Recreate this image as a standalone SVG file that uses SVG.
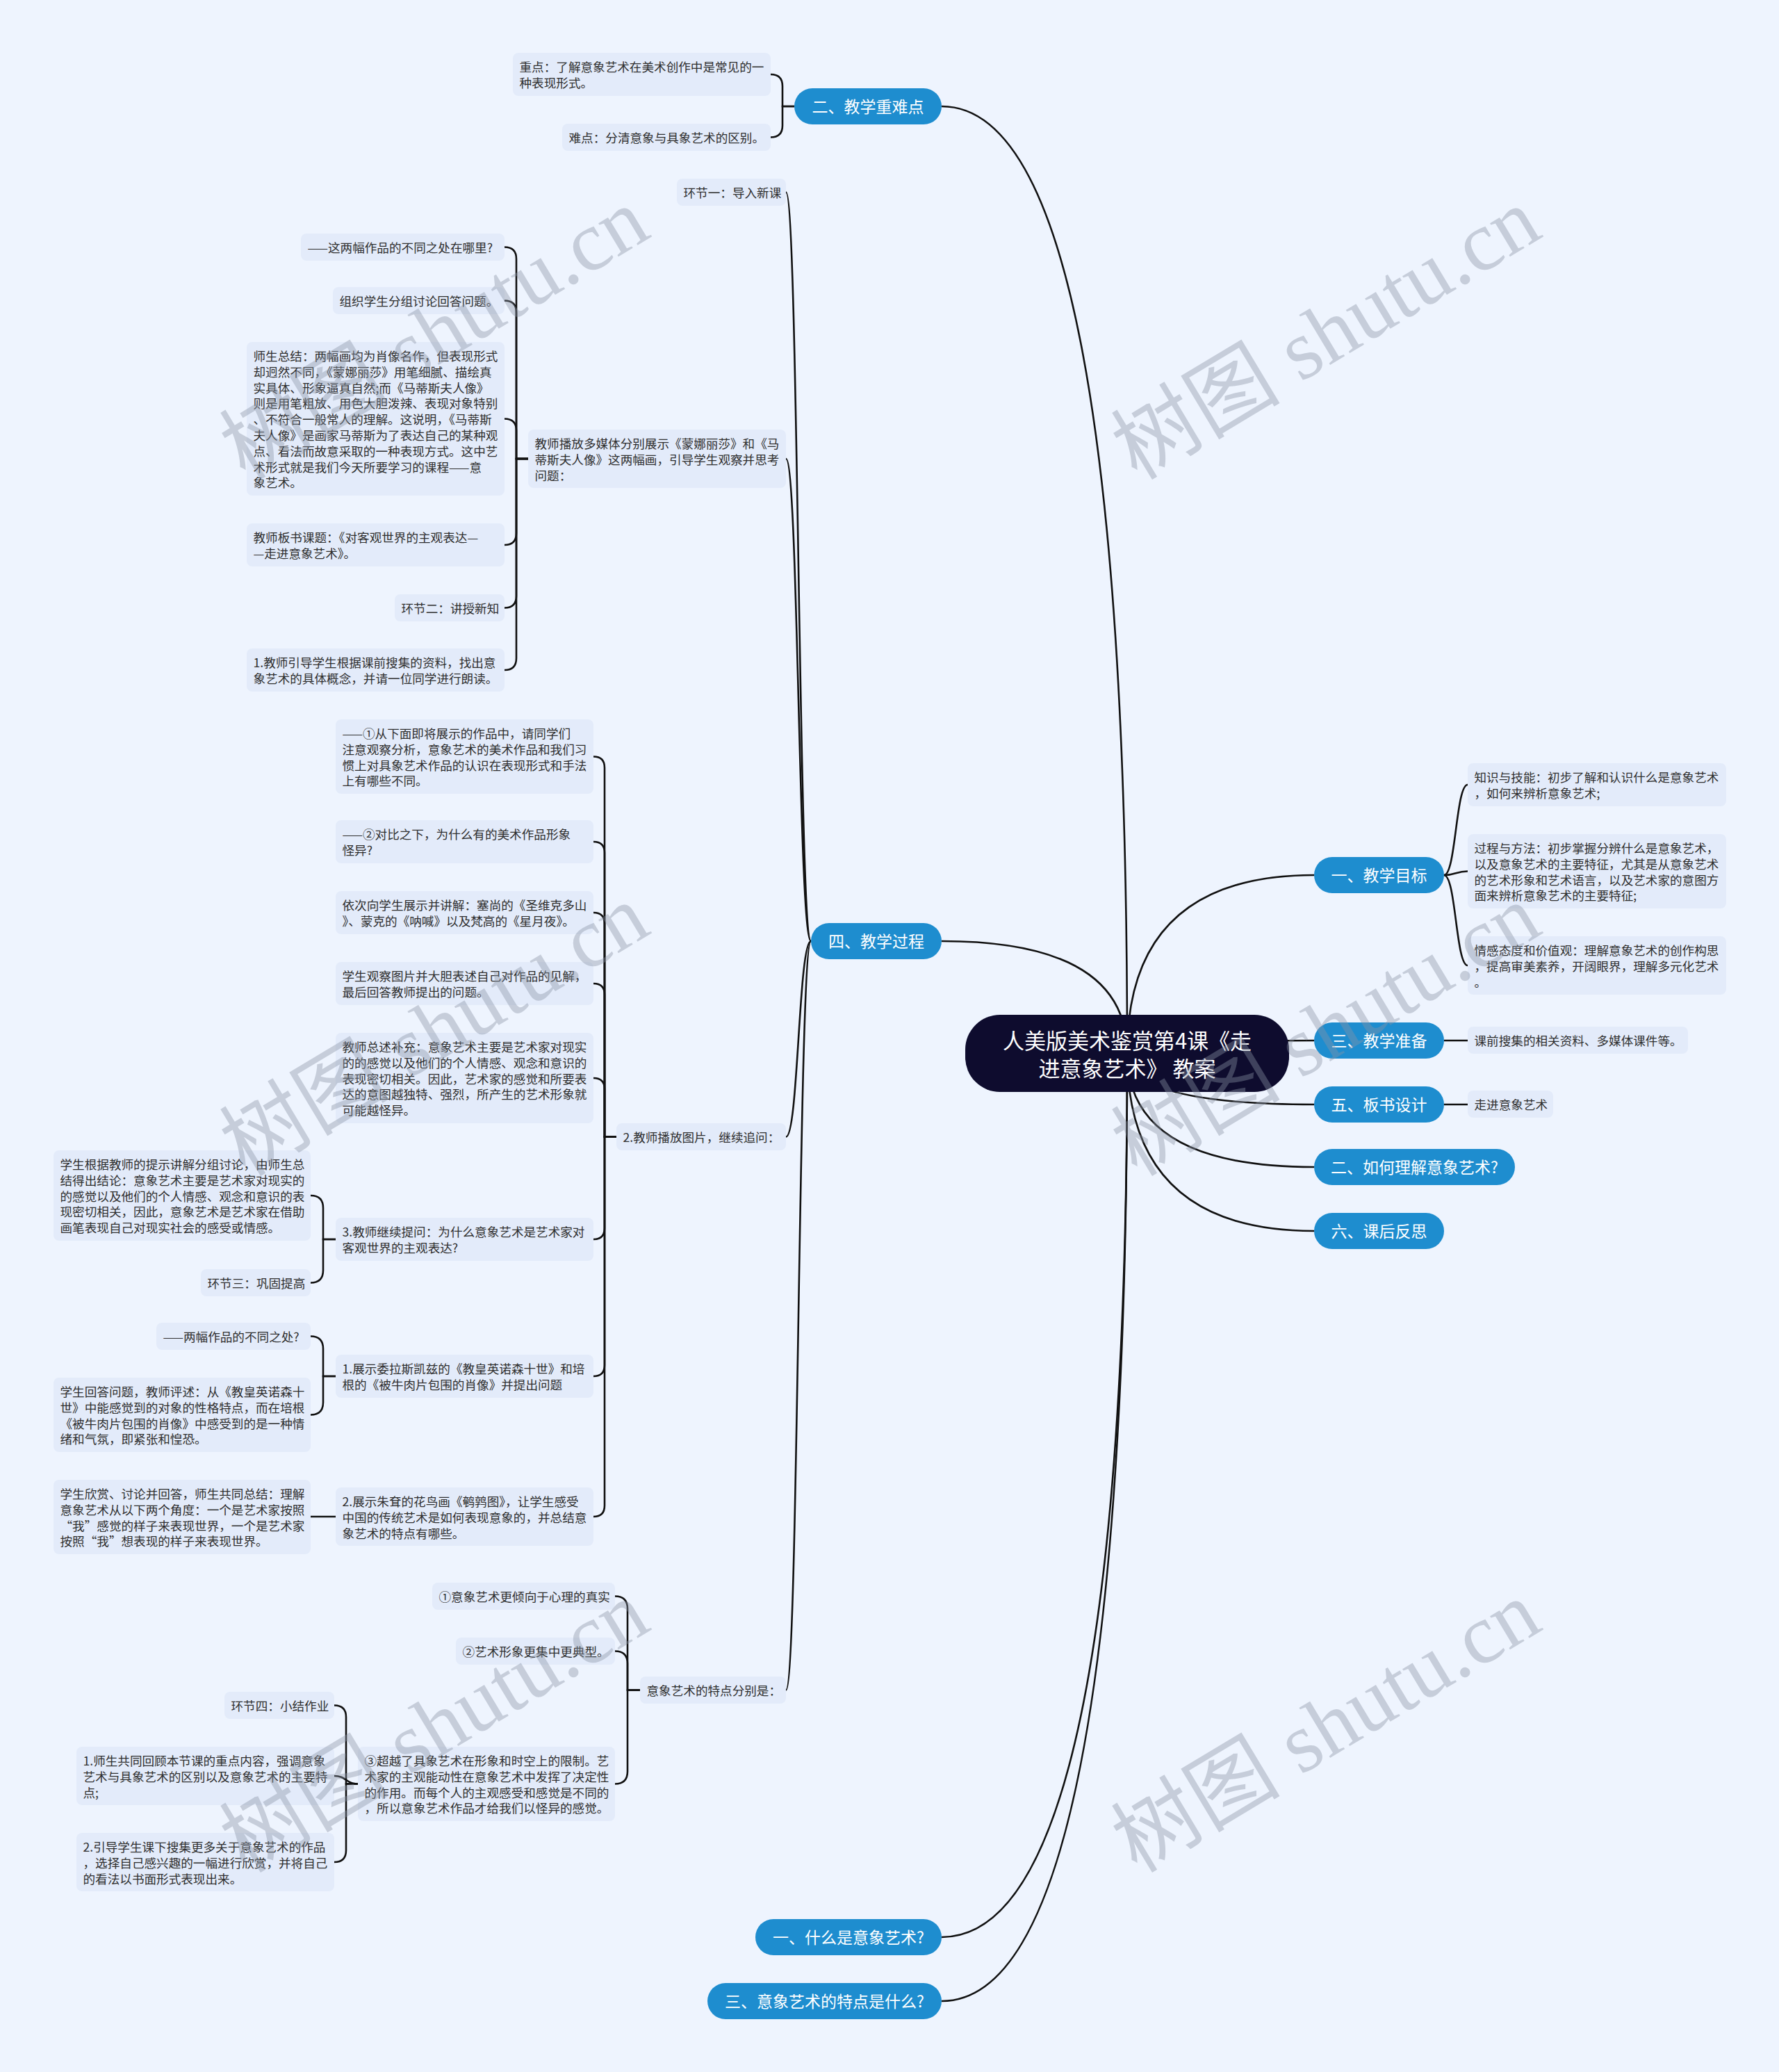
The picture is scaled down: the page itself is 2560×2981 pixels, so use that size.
<svg xmlns="http://www.w3.org/2000/svg" width="2560" height="2981" viewBox="0 0 2560 2981">
<style>
.box{fill:#E3EBFA}
.t{font-family:"Noto Sans CJK SC","Liberation Sans",sans-serif;font-size:17.6px;fill:#2f2f2f}
.pill{fill:#1E8DCF}
.pt{font-family:"Noto Sans CJK SC","Liberation Sans",sans-serif;font-size:23px;fill:#ffffff;text-anchor:middle}
.root{fill:#0E0C2E}
.rt{font-family:"Noto Sans CJK SC","Liberation Sans",sans-serif;font-size:31px;fill:#ffffff;text-anchor:middle}
.ln{fill:none;stroke:#111111;stroke-width:2.6}
.wm{font-family:"Liberation Serif","Noto Sans CJK SC",serif;font-size:122px;fill:#8A94A6;fill-opacity:0.4}
</style>
<rect x="0" y="0" width="2560" height="2981" fill="#EEF4FE"/>
<g id="connectors">
<path class="ln" d="M1622,1515 Q1622,153 1355,153"/>
<path class="ln" d="M1622,1515 Q1622,1354 1355,1354"/>
<path class="ln" d="M1622,1515 Q1622,2787 1355,2787"/>
<path class="ln" d="M1622,1515 Q1622,2879 1355,2879"/>
<path class="ln" d="M1622,1515 Q1622,1259 1891,1259"/>
<path class="ln" d="M1622,1515 Q1622,1497 1891,1497"/>
<path class="ln" d="M1622,1515 Q1622,1589 1891,1589"/>
<path class="ln" d="M1622,1515 Q1622,1679 1891,1679"/>
<path class="ln" d="M1622,1515 Q1622,1771 1891,1771"/>
<path class="ln" d="M1143,153 H1126 V124 Q1126,107 1109,107"/>
<path class="ln" d="M1143,153 H1126 V180.5 Q1126,197.5 1109,197.5"/>
<path class="ln" d="M1167,1354 C1149,1354 1149,276.5 1131,276.5"/>
<path class="ln" d="M1167,1354 C1149,1354 1149,660 1131,660"/>
<path class="ln" d="M1167,1354 C1149,1354 1149,1635.5 1131,1635.5"/>
<path class="ln" d="M1167,1354 C1149,1354 1149,2431.5 1131,2431.5"/>
<path class="ln" d="M760,660 H743 V372.5 Q743,355.5 726,355.5"/>
<path class="ln" d="M760,660 H743 V449.5 Q743,432.5 726,432.5"/>
<path class="ln" d="M760,660 H743 V619.5 Q743,602.5 726,602.5"/>
<path class="ln" d="M760,660 H743 V767 Q743,784 726,784"/>
<path class="ln" d="M760,660 H743 V857.5 Q743,874.5 726,874.5"/>
<path class="ln" d="M760,660 H743 V947 Q743,964 726,964"/>
<path class="ln" d="M887,1635.5 H870 V1104.5 Q870,1088.5 854,1088.5"/>
<path class="ln" d="M887,1635.5 H870 V1227 Q870,1211 854,1211"/>
<path class="ln" d="M887,1635.5 H870 V1329 Q870,1313 854,1313"/>
<path class="ln" d="M887,1635.5 H870 V1431 Q870,1415 854,1415"/>
<path class="ln" d="M887,1635.5 H870 V1567 Q870,1551 854,1551"/>
<path class="ln" d="M887,1635.5 H870 V1767 Q870,1783 854,1783"/>
<path class="ln" d="M887,1635.5 H870 V1964 Q870,1980 854,1980"/>
<path class="ln" d="M887,1635.5 H870 V2166 Q870,2182 854,2182"/>
<path class="ln" d="M483,1783 H465 V1738 Q465,1720 447,1720"/>
<path class="ln" d="M483,1783 H465 V1827.5 Q465,1845.5 447,1845.5"/>
<path class="ln" d="M483,1980 H465 V1940.5 Q465,1922.5 447,1922.5"/>
<path class="ln" d="M483,1980 H465 V2017.5 Q465,2035.5 447,2035.5"/>
<path class="ln" d="M483,2182 H447"/>
<path class="ln" d="M921,2431.5 H903 V2314.5 Q903,2296.5 885,2296.5"/>
<path class="ln" d="M921,2431.5 H903 V2393.5 Q903,2375.5 885,2375.5"/>
<path class="ln" d="M921,2431.5 H903 V2548.5 Q903,2566.5 885,2566.5"/>
<path class="ln" d="M515,2566.5 H498 V2470.5 Q498,2453.5 481,2453.5"/>
<path class="ln" d="M515,2566.5 C498,2566.5 498,2555 481,2555"/>
<path class="ln" d="M515,2566.5 H498 V2662 Q498,2679 481,2679"/>
<path class="ln" d="M2078,1259 C2095,1259 2095,1129 2112,1129"/>
<path class="ln" d="M2078,1259 C2095,1259 2095,1253.5 2112,1253.5"/>
<path class="ln" d="M2078,1259 C2095,1259 2095,1389 2112,1389"/>
<path class="ln" d="M2078,1497 H2112"/>
<path class="ln" d="M2078,1589 H2112"/>
</g>
<g id="root"><rect class="root" x="1389" y="1460" width="466" height="111" rx="50"/><text class="rt"><tspan x="1622" y="1508.5">人美版美术鉴赏第4课《走</tspan><tspan x="1622" y="1548.5">进意象艺术》 教案</tspan></text></g>
<g id="n-zhongnan"><rect class="pill" x="1143" y="127" width="212" height="52" rx="26"/><text class="pt" x="1249" y="161.5">二、教学重难点</text></g>
<g id="n-guocheng"><rect class="pill" x="1167" y="1328" width="188" height="52" rx="26"/><text class="pt" x="1261" y="1362.5">四、教学过程</text></g>
<g id="n-shenme"><rect class="pill" x="1087" y="2761" width="268" height="52" rx="26"/><text class="pt" x="1221" y="2795.5">一、什么是意象艺术?</text></g>
<g id="n-tedian"><rect class="pill" x="1018" y="2853" width="337" height="52" rx="26"/><text class="pt" x="1186.5" y="2887.5">三、意象艺术的特点是什么?</text></g>
<g id="n-mubiao"><rect class="pill" x="1891" y="1233" width="187" height="52" rx="26"/><text class="pt" x="1984.5" y="1267.5">一、教学目标</text></g>
<g id="n-zhunbei"><rect class="pill" x="1891" y="1471" width="187" height="52" rx="26"/><text class="pt" x="1984.5" y="1505.5">三、教学准备</text></g>
<g id="n-banshu"><rect class="pill" x="1891" y="1563" width="187" height="52" rx="26"/><text class="pt" x="1984.5" y="1597.5">五、板书设计</text></g>
<g id="n-lijie"><rect class="pill" x="1891" y="1653" width="289" height="52" rx="26"/><text class="pt" x="2035.5" y="1687.5">二、如何理解意象艺术?</text></g>
<g id="n-fansi"><rect class="pill" x="1891" y="1745" width="187" height="52" rx="26"/><text class="pt" x="1984.5" y="1779.5">六、课后反思</text></g>
<g id="b-zhongdian"><rect class="box" x="738" y="76" width="371" height="62" rx="8"/><text class="t"><tspan x="747.5" y="103">重点：了解意象艺术在美术创作中是常见的一</tspan><tspan x="747.5" y="125.8">种表现形式。</tspan></text></g>
<g id="b-nandian"><rect class="box" x="809" y="178" width="300" height="39" rx="8"/><text class="t" x="818.5" y="205">难点：分清意象与具象艺术的区别。</text></g>
<g id="b-huanjie1"><rect class="box" x="974" y="257" width="157" height="39" rx="8"/><text class="t" x="983.5" y="284">环节一：导入新课</text></g>
<g id="b-liangfu"><rect class="box" x="433" y="336" width="293" height="39" rx="8"/><text class="t" x="442.5" y="363">——这两幅作品的不同之处在哪里?</text></g>
<g id="b-zuzhi"><rect class="box" x="479" y="413" width="247" height="39" rx="8"/><text class="t" x="488.5" y="440">组织学生分组讨论回答问题。</text></g>
<g id="b-shisheng"><rect class="box" x="355" y="492" width="371" height="221" rx="8"/><text class="t"><tspan x="364.5" y="519">师生总结：两幅画均为肖像名作，但表现形式</tspan><tspan x="364.5" y="541.8">却迥然不同，《蒙娜丽莎》用笔细腻、描绘真</tspan><tspan x="364.5" y="564.6">实具体、形象逼真自然;而《马蒂斯夫人像》</tspan><tspan x="364.5" y="587.4">则是用笔粗放、用色大胆泼辣、表现对象特别</tspan><tspan x="364.5" y="610.2">、不符合一般常人的理解。这说明，《马蒂斯</tspan><tspan x="364.5" y="633">夫人像》是画家马蒂斯为了表达自己的某种观</tspan><tspan x="364.5" y="655.8">点、看法而故意采取的一种表现方式。这中艺</tspan><tspan x="364.5" y="678.6">术形式就是我们今天所要学习的课程——意</tspan><tspan x="364.5" y="701.4">象艺术。</tspan></text></g>
<g id="b-bofang"><rect class="box" x="760" y="618" width="371" height="84" rx="8"/><text class="t"><tspan x="769.5" y="645">教师播放多媒体分别展示《蒙娜丽莎》和《马</tspan><tspan x="769.5" y="667.8">蒂斯夫人像》这两幅画，引导学生观察并思考</tspan><tspan x="769.5" y="690.6">问题：</tspan></text></g>
<g id="b-banshuketi"><rect class="box" x="355" y="753" width="371" height="62" rx="8"/><text class="t"><tspan x="364.5" y="780">教师板书课题：《对客观世界的主观表达—</tspan><tspan x="364.5" y="802.8">—走进意象艺术》。</tspan></text></g>
<g id="b-huanjie2"><rect class="box" x="568" y="855" width="158" height="39" rx="8"/><text class="t" x="577.5" y="882">环节二：讲授新知</text></g>
<g id="b-yindao"><rect class="box" x="355" y="933" width="371" height="62" rx="8"/><text class="t"><tspan x="364.5" y="960">1.教师引导学生根据课前搜集的资料，找出意</tspan><tspan x="364.5" y="982.8">象艺术的具体概念，并请一位同学进行朗读。</tspan></text></g>
<g id="b-q1"><rect class="box" x="483" y="1035" width="371" height="107" rx="8"/><text class="t"><tspan x="492.5" y="1062">——①从下面即将展示的作品中，请同学们</tspan><tspan x="492.5" y="1084.8">注意观察分析，意象艺术的美术作品和我们习</tspan><tspan x="492.5" y="1107.6">惯上对具象艺术作品的认识在表现形式和手法</tspan><tspan x="492.5" y="1130.4">上有哪些不同。</tspan></text></g>
<g id="b-q2"><rect class="box" x="483" y="1180" width="371" height="62" rx="8"/><text class="t"><tspan x="492.5" y="1207">——②对比之下，为什么有的美术作品形象</tspan><tspan x="492.5" y="1229.8">怪异?</tspan></text></g>
<g id="b-yici"><rect class="box" x="483" y="1282" width="371" height="62" rx="8"/><text class="t"><tspan x="492.5" y="1309">依次向学生展示并讲解：塞尚的《圣维克多山</tspan><tspan x="492.5" y="1331.8">》、蒙克的《呐喊》以及梵高的《星月夜》。</tspan></text></g>
<g id="b-guancha"><rect class="box" x="483" y="1384" width="371" height="62" rx="8"/><text class="t"><tspan x="492.5" y="1411">学生观察图片并大胆表述自己对作品的见解，</tspan><tspan x="492.5" y="1433.8">最后回答教师提出的问题。</tspan></text></g>
<g id="b-zongshu"><rect class="box" x="483" y="1486" width="371" height="130" rx="8"/><text class="t"><tspan x="492.5" y="1513">教师总述补充：意象艺术主要是艺术家对现实</tspan><tspan x="492.5" y="1535.8">的的感觉以及他们的个人情感、观念和意识的</tspan><tspan x="492.5" y="1558.6">表现密切相关。因此，艺术家的感觉和所要表</tspan><tspan x="492.5" y="1581.4">达的意图越独特、强烈，所产生的艺术形象就</tspan><tspan x="492.5" y="1604.2">可能越怪异。</tspan></text></g>
<g id="b-tupian"><rect class="box" x="887" y="1616" width="244" height="39" rx="8"/><text class="t" x="896.5" y="1643">2.教师播放图片，继续追问：</text></g>
<g id="b-genju"><rect class="box" x="77" y="1655" width="370" height="130" rx="8"/><text class="t"><tspan x="86.5" y="1682">学生根据教师的提示讲解分组讨论，由师生总</tspan><tspan x="86.5" y="1704.8">结得出结论：意象艺术主要是艺术家对现实的</tspan><tspan x="86.5" y="1727.6">的感觉以及他们的个人情感、观念和意识的表</tspan><tspan x="86.5" y="1750.4">现密切相关，因此，意象艺术是艺术家在借助</tspan><tspan x="86.5" y="1773.2">画笔表现自己对现实社会的感受或情感。</tspan></text></g>
<g id="b-tiwen"><rect class="box" x="483" y="1752" width="371" height="62" rx="8"/><text class="t"><tspan x="492.5" y="1779">3.教师继续提问：为什么意象艺术是艺术家对</tspan><tspan x="492.5" y="1801.8">客观世界的主观表达?</tspan></text></g>
<g id="b-huanjie3"><rect class="box" x="289" y="1826" width="158" height="39" rx="8"/><text class="t" x="298.5" y="1853">环节三：巩固提高</text></g>
<g id="b-butong"><rect class="box" x="225" y="1903" width="222" height="39" rx="8"/><text class="t" x="234.5" y="1930">——两幅作品的不同之处?</text></g>
<g id="b-weilasi"><rect class="box" x="483" y="1949" width="371" height="62" rx="8"/><text class="t"><tspan x="492.5" y="1976">1.展示委拉斯凯兹的《教皇英诺森十世》和培</tspan><tspan x="492.5" y="1998.8">根的《被牛肉片包围的肖像》并提出问题</tspan></text></g>
<g id="b-huida"><rect class="box" x="77" y="1982" width="370" height="107" rx="8"/><text class="t"><tspan x="86.5" y="2009">学生回答问题，教师评述：从《教皇英诺森十</tspan><tspan x="86.5" y="2031.8">世》中能感觉到的对象的性格特点，而在培根</tspan><tspan x="86.5" y="2054.6">《被牛肉片包围的肖像》中感受到的是一种情</tspan><tspan x="86.5" y="2077.4">绪和气氛，即紧张和惶恐。</tspan></text></g>
<g id="b-xinshang"><rect class="box" x="77" y="2129" width="370" height="107" rx="8"/><text class="t"><tspan x="86.5" y="2156">学生欣赏、讨论并回答，师生共同总结：理解</tspan><tspan x="86.5" y="2178.8">意象艺术从以下两个角度：一个是艺术家按照</tspan><tspan x="86.5" y="2201.6">“我”感觉的样子来表现世界，一个是艺术家</tspan><tspan x="86.5" y="2224.4">按照“我”想表现的样子来表现世界。</tspan></text></g>
<g id="b-zhuda"><rect class="box" x="483" y="2140" width="371" height="84" rx="8"/><text class="t"><tspan x="492.5" y="2167">2.展示朱耷的花鸟画《鹌鹑图》，让学生感受</tspan><tspan x="492.5" y="2189.8">中国的传统艺术是如何表现意象的，并总结意</tspan><tspan x="492.5" y="2212.6">象艺术的特点有哪些。</tspan></text></g>
<g id="b-te1"><rect class="box" x="622" y="2277" width="263" height="39" rx="8"/><text class="t" x="631.5" y="2304">①意象艺术更倾向于心理的真实</text></g>
<g id="b-te2"><rect class="box" x="656" y="2356" width="229" height="39" rx="8"/><text class="t" x="665.5" y="2383">②艺术形象更集中更典型。</text></g>
<g id="b-tedian"><rect class="box" x="921" y="2412" width="210" height="39" rx="8"/><text class="t" x="930.5" y="2439">意象艺术的特点分别是：</text></g>
<g id="b-huanjie4"><rect class="box" x="323" y="2434" width="158" height="39" rx="8"/><text class="t" x="332.5" y="2461">环节四：小结作业</text></g>
<g id="b-huigu"><rect class="box" x="110" y="2513" width="371" height="84" rx="8"/><text class="t"><tspan x="119.5" y="2540">1.师生共同回顾本节课的重点内容，强调意象</tspan><tspan x="119.5" y="2562.8">艺术与具象艺术的区别以及意象艺术的主要特</tspan><tspan x="119.5" y="2585.6">点;</tspan></text></g>
<g id="b-te3"><rect class="box" x="515" y="2513" width="370" height="107" rx="8"/><text class="t"><tspan x="524.5" y="2540">③超越了具象艺术在形象和时空上的限制。艺</tspan><tspan x="524.5" y="2562.8">术家的主观能动性在意象艺术中发挥了决定性</tspan><tspan x="524.5" y="2585.6">的作用。而每个人的主观感受和感觉是不同的</tspan><tspan x="524.5" y="2608.4">，所以意象艺术作品才给我们以怪异的感觉。</tspan></text></g>
<g id="b-soujiduo"><rect class="box" x="110" y="2637" width="371" height="84" rx="8"/><text class="t"><tspan x="119.5" y="2664">2.引导学生课下搜集更多关于意象艺术的作品</tspan><tspan x="119.5" y="2686.8">，选择自己感兴趣的一幅进行欣赏，并将自己</tspan><tspan x="119.5" y="2709.6">的看法以书面形式表现出来。</tspan></text></g>
<g id="b-zhishi"><rect class="box" x="2112" y="1098" width="372" height="62" rx="8"/><text class="t"><tspan x="2121.5" y="1125">知识与技能：初步了解和认识什么是意象艺术</tspan><tspan x="2121.5" y="1147.8">，如何来辨析意象艺术;</tspan></text></g>
<g id="b-fangfa"><rect class="box" x="2112" y="1200" width="372" height="107" rx="8"/><text class="t"><tspan x="2121.5" y="1227">过程与方法：初步掌握分辨什么是意象艺术，</tspan><tspan x="2121.5" y="1249.8">以及意象艺术的主要特征，尤其是从意象艺术</tspan><tspan x="2121.5" y="1272.6">的艺术形象和艺术语言，以及艺术家的意图方</tspan><tspan x="2121.5" y="1295.4">面来辨析意象艺术的主要特征;</tspan></text></g>
<g id="b-qinggan"><rect class="box" x="2112" y="1347" width="372" height="84" rx="8"/><text class="t"><tspan x="2121.5" y="1374">情感态度和价值观：理解意象艺术的创作构思</tspan><tspan x="2121.5" y="1396.8">，提高审美素养，开阔眼界，理解多元化艺术</tspan><tspan x="2121.5" y="1419.6">。</tspan></text></g>
<g id="b-kejian"><rect class="box" x="2112" y="1477" width="317" height="39" rx="8"/><text class="t" x="2121.5" y="1504">课前搜集的相关资料、多媒体课件等。</text></g>
<g id="b-zoujin"><rect class="box" x="2112" y="1569" width="123" height="39" rx="8"/><text class="t" x="2121.5" y="1596">走进意象艺术</text></g>
<g id="watermarks">
<text class="wm" x="353" y="692" transform="rotate(-31 353 692)">树图 shutu.cn</text>
<text class="wm" x="353" y="1694" transform="rotate(-31 353 1694)">树图 shutu.cn</text>
<text class="wm" x="353" y="2696" transform="rotate(-31 353 2696)">树图 shutu.cn</text>
<text class="wm" x="1636" y="692" transform="rotate(-31 1636 692)">树图 shutu.cn</text>
<text class="wm" x="1636" y="1694" transform="rotate(-31 1636 1694)">树图 shutu.cn</text>
<text class="wm" x="1636" y="2696" transform="rotate(-31 1636 2696)">树图 shutu.cn</text>
</g>
</svg>
